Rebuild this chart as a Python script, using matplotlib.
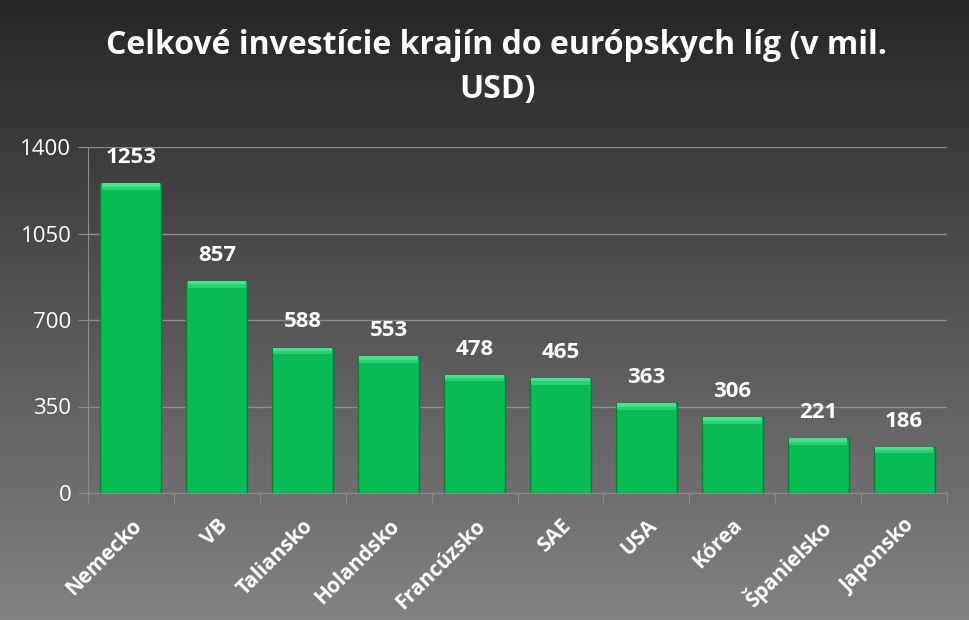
import numpy as np
import matplotlib
matplotlib.use("Agg")
import matplotlib.pyplot as plt
from matplotlib.colors import LinearSegmentedColormap

categories = ["Nemecko", "VB", "Taliansko", "Holandsko", "Francúzsko", "SAE", "USA", "Kórea", "Španielsko", "Japonsko"]
values = [1253, 857, 588, 553, 478, 465, 363, 306, 221, 186]
yticks = [0, 350, 700, 1050, 1400]
title = "Celkové investície krajín do európskych líg (v mil.\nUSD)"

plt.rcParams['font.family'] = ['Open Sans', 'DejaVu Sans']

fig = plt.figure(figsize=(9.7, 6.2), dpi=100)

# background gradient
bg = fig.add_axes([0, 0, 1, 1], zorder=-10)
cmap = LinearSegmentedColormap.from_list("g", ["#262626", "#828282"])
grad = np.linspace(0, 1, 256).reshape(-1, 1)
bg.imshow(grad, aspect="auto", cmap=cmap, extent=[0, 1, 0, 1], origin="upper")
bg.axis("off")

W, H = 970, 620
left, right, top, bottom = 88, 947, 147, 493
ax = fig.add_axes([left / W, 1 - bottom / H, (right - left) / W, (bottom - top) / H])
ax.patch.set_alpha(0)

x = np.arange(len(categories))
bw = 0.71
ax.bar(x, values, width=bw, color="#07BB55", edgecolor="#08803b", linewidth=1.0, zorder=3)
bev = 26
ax.bar(x, [bev] * len(values), bottom=[v - bev for v in values], width=bw * 0.96,
       color="#2ccf75", linewidth=0, zorder=4)
ax.bar(x, [bev * 0.5] * len(values), bottom=[v - bev * 0.5 for v in values], width=bw * 0.96,
       color="#45e08c", linewidth=0, zorder=4)

for xi, v in zip(x, values):
    ax.annotate(str(v), (xi, v), xytext=(0, 11), textcoords="offset points",
                ha="center", va="bottom", color="white", fontsize=16, fontweight="bold", zorder=5)

ax.set_xlim(-0.5, len(categories) - 0.5)
ax.set_ylim(0, 1400)
ax.set_yticks(yticks)
ax.set_yticklabels([str(t) for t in yticks], color="white", fontsize=16)
ax.yaxis.grid(True, color="#8c8c8c", linewidth=1, zorder=0)
ax.set_axisbelow(True)

ax.set_xticks(np.arange(-0.5, len(categories) + 0.5, 1), minor=False)
ax.set_xticklabels([])
ax.tick_params(axis="x", length=7, color="#8c8c8c", direction="out")
ax.set_xticks(x, minor=True)
ax.set_xticklabels(categories, minor=True, rotation=45, ha="right", rotation_mode="anchor",
                   color="white", fontsize=15, fontweight="bold")
ax.tick_params(axis="x", which="minor", length=0, pad=16)
ax.tick_params(axis="y", length=7, color="#8c8c8c", pad=5)

for s in ["top", "right"]:
    ax.spines[s].set_visible(False)
ax.spines["left"].set_color("#8c8c8c")
ax.spines["bottom"].set_color("#8c8c8c")

fig.text(497 / W, 1 - 29 / H, title, ha="center", va="top", color="white",
         fontsize=23, fontweight="bold", linespacing=1.45)

fig.savefig("out.png", dpi=100)
